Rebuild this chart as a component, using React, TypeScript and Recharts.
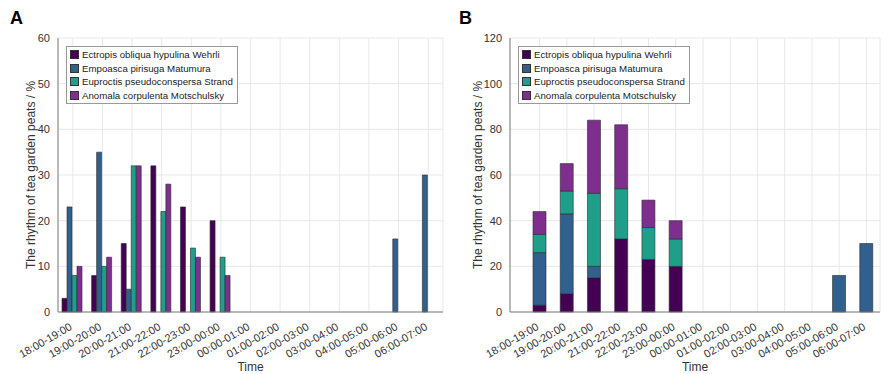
import React from "react";
import { BarChart, Bar, XAxis, YAxis, CartesianGrid } from "recharts";

const timeSlots = [
  "18:00-19:00", "19:00-20:00", "20:00-21:00", "21:00-22:00", "22:00-23:00", "23:00-00:00",
  "00:00-01:00", "01:00-02:00", "02:00-03:00", "03:00-04:00", "04:00-05:00", "05:00-06:00", "06:00-07:00",
];

const ectropis = [3, 8, 15, 32, 23, 20, 0, 0, 0, 0, 0, 0, 0];
const empoasca = [23, 35, 5, 0, 0, 0, 0, 0, 0, 0, 0, 16, 30];
const euproctis = [8, 10, 32, 22, 14, 12, 0, 0, 0, 0, 0, 0, 0];
const anomala = [10, 12, 32, 28, 12, 8, 0, 0, 0, 0, 0, 0, 0];

const ticksA = [0, 10, 20, 30, 40, 50, 60];
const ticksB = [0, 20, 40, 60, 80, 100, 120];

const series = [
  { key: "ectropis", name: "Ectropis obliqua hypulina Wehrli", color: "#440154" },
  { key: "empoasca", name: "Empoasca pirisuga Matumura", color: "#31608f" },
  { key: "euproctis", name: "Euproctis pseudoconspersa Strand", color: "#1f9e89" },
  { key: "anomala", name: "Anomala corpulenta Motschulsky", color: "#7e2f8e" },
];

const data = timeSlots.map((t, i) => ({
  time: t,
  ectropis: ectropis[i],
  empoasca: empoasca[i],
  euproctis: euproctis[i],
  anomala: anomala[i],
}));

const FONT = "'Liberation Sans', Arial, sans-serif";
const TEXT = "#333";
const AXIS = "#7f7f7f";

const TimeTick = ({ x, y, payload }: any) => (
  <text
    x={x}
    y={y + 9}
    transform={`rotate(-30, ${x}, ${y + 9})`}
    textAnchor="end"
    fontSize={11}
    fill={TEXT}
    fontFamily={FONT}
  >
    {payload.value}
  </text>
);

// legend drawn as an overlay so it does not eat into the plot area
const LegendBox = ({ left }: { left: number }) => (
  <div
    style={{
      position: "absolute",
      left,
      top: 46,
      border: "1px solid #999",
      background: "#fff",
      padding: "1px 4px 1px 3px",
      fontFamily: FONT,
      fontSize: 9.7,
      color: "#222",
      lineHeight: "13.5px",
    }}
  >
    {series.map(s => (
      <div key={s.key} style={{ display: "flex", alignItems: "center", whiteSpace: "nowrap" }}>
        <span style={{ width: 7, height: 7, background: s.color, border: "0.5px solid #333", marginRight: 3, display: "inline-block" }} />
        {s.name}
      </div>
    ))}
  </div>
);

function Panel({ stacked, ticks, width, left, yWidth, padLeft, marginRight }: any) {
  return (
    <div style={{ position: "absolute", left, top: 0 }}>
      <BarChart
        width={width}
        height={374}
        data={data}
        margin={{ top: 38, right: marginRight, left: 0, bottom: 0 }}
        barGap={0}
        barCategoryGap={stacked ? 7 : 4}
      >
        <CartesianGrid stroke="#e8e8e8" />
        <XAxis
          dataKey="time"
          interval={0}
          height={62}
          tick={<TimeTick />}
          tickLine={false}
          stroke={AXIS}
          padding={{ left: padLeft, right: 0 }}
          label={{ value: "Time", position: "insideBottom", offset: 3, fill: TEXT, fontSize: 12, fontFamily: FONT }}
        />
        <YAxis
          width={yWidth}
          domain={[0, ticks[ticks.length - 1]]}
          ticks={ticks}
          tickLine={false}
          stroke={AXIS}
          tick={{ fill: TEXT, fontSize: 11, fontFamily: FONT }}
          label={{
            value: "The rhythm of tea garden peats / %",
            angle: -90,
            position: "center",
            dx: stacked ? -2 : 2,
            fill: TEXT,
            fontSize: 12,
            fontFamily: FONT,
          }}
        />
        {series.map(s => (
          <Bar
            key={s.key}
            dataKey={s.key}
            name={s.name}
            fill={s.color}
            stroke="#2a2a2a"
            strokeWidth={0.6}
            stackId={stacked ? "a" : undefined}
            isAnimationActive={false}
          />
        ))}
      </BarChart>
      <LegendBox left={yWidth + 8} />
    </div>
  );
}

export default function App() {
  return (
    <div style={{ position: "absolute", left: 0, top: 0, width: 885, height: 374, background: "#fff", overflow: "hidden" }}>
      <div style={{ position: "absolute", left: 10, top: 8, fontFamily: FONT, fontWeight: "bold", fontSize: 18 }}>A</div>
      <div style={{ position: "absolute", left: 459, top: 8, fontFamily: FONT, fontWeight: "bold", fontSize: 18 }}>B</div>
      <Panel stacked={false} ticks={ticksA} width={450} left={0} yWidth={58} padLeft={0} marginRight={7} />
      <Panel stacked={true} ticks={ticksB} width={435} left={450} yWidth={60} padLeft={16} marginRight={5} />
    </div>
  );
}
